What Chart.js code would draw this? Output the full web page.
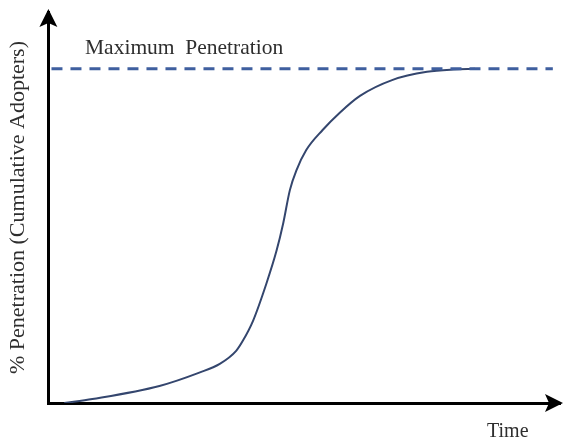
<!DOCTYPE html>
<html>
<head>
<meta charset="utf-8">
<script src="https://cdn.jsdelivr.net/npm/chart.js@4.4.1/dist/chart.umd.min.js"></script>
<style>
  html, body { margin: 0; padding: 0; background: #fff; }
  #wrap { width: 563px; height: 443px; }
</style>
</head>
<body>
<div id="wrap"><canvas id="diffusionChart"></canvas></div>
<script>
// adoption curve (time units 0-100, % penetration 0-100)
const timeValues = [3.1, 8.6, 21.7, 29.5, 33.5, 36.7, 38.0, 40.0, 42.6, 44.6, 45.9, 47.2, 48.5, 50.4, 53.6, 56.9, 60.9, 67.3, 74.0, 79.1, 83.4];
const penetrationValues = [0, 1.2, 5.1, 9.1, 11.7, 15.6, 18.6, 24.6, 35.7, 45.6, 53.8, 63.7, 69.7, 75.7, 81.7, 86.8, 91.9, 96.7, 99.1, 99.8, 100];
// the dashed ceiling
const maxTime = [0.6, 98.6];
const maxPenetration = [100, 100];

const yTitle = "% Penetration (Cumulative Adopters)";
const xTitle = "Time";
const maxLabel = "Maximum  Penetration";

const textColor = "#2e2e2e";
const serif = "'Liberation Serif', 'Times New Roman', serif";

// arrow heads on the axes plus the two free labels
const axisDecor = {
    id: "axisDecor",
    afterDraw(chart) {
        const ctx = chart.ctx;
        const a = chart.chartArea;
        ctx.save();
        ctx.fillStyle = "#000";
        // y arrow
        ctx.beginPath();
        ctx.moveTo(a.left, a.top - 3);
        ctx.lineTo(a.left - 9, a.top + 15);
        ctx.lineTo(a.left, a.top + 11);
        ctx.lineTo(a.left + 9, a.top + 15);
        ctx.closePath();
        ctx.fill();
        // x arrow
        ctx.beginPath();
        ctx.moveTo(a.right + 3, a.bottom);
        ctx.lineTo(a.right - 15, a.bottom - 9);
        ctx.lineTo(a.right - 11, a.bottom);
        ctx.lineTo(a.right - 15, a.bottom + 9);
        ctx.closePath();
        ctx.fill();

        ctx.fillStyle = textColor;
        ctx.textBaseline = "middle";
        ctx.font = "21.5px " + serif;
        ctx.textAlign = "left";
        ctx.fillText(maxLabel, 85, 48);
        ctx.font = "20px " + serif;
        ctx.fillText(xTitle, 487, 432);
        ctx.restore();
    }
};

const canvasElement = document.getElementById("diffusionChart");
const config = {
    type: "line",
    data: {
        datasets: [
            {
                label: "Maximum Penetration",
                data: maxTime.map((t, i) => ({ x: t, y: maxPenetration[i] })),
                borderColor: "#3f5f9f",
                borderWidth: 3,
                borderDash: [11, 8],
                pointRadius: 0,
                fill: false
            },
            {
                label: "Cumulative Adopters",
                data: timeValues.map((t, i) => ({ x: t, y: penetrationValues[i] })),
                borderColor: "#34466e",
                borderWidth: 2,
                pointRadius: 0,
                cubicInterpolationMode: "monotone",
                fill: false
            }
        ]
    },
    options: {
        responsive: true,
        maintainAspectRatio: false,
        animation: false,
        layout: { padding: { top: 12, right: 3, bottom: 40, left: 0 } },
        plugins: {
            legend: { display: false },
            tooltip: { enabled: false }
        },
        scales: {
            x: {
                type: "linear",
                min: 0,
                max: 100,
                ticks: { display: false },
                grid: { display: false, drawTicks: false },
                border: { display: true, color: "#000", width: 3 }
            },
            y: {
                min: 0,
                max: 117,
                ticks: { display: false },
                grid: { display: false, drawTicks: false },
                border: { display: true, color: "#000", width: 3 },
                title: {
                    display: true,
                    text: yTitle,
                    color: textColor,
                    font: { family: serif, size: 22 },
                    padding: { top: 5, bottom: 17 }
                }
            }
        }
    },
    plugins: [axisDecor]
};
new Chart(canvasElement, config);
</script>
</body>
</html>
